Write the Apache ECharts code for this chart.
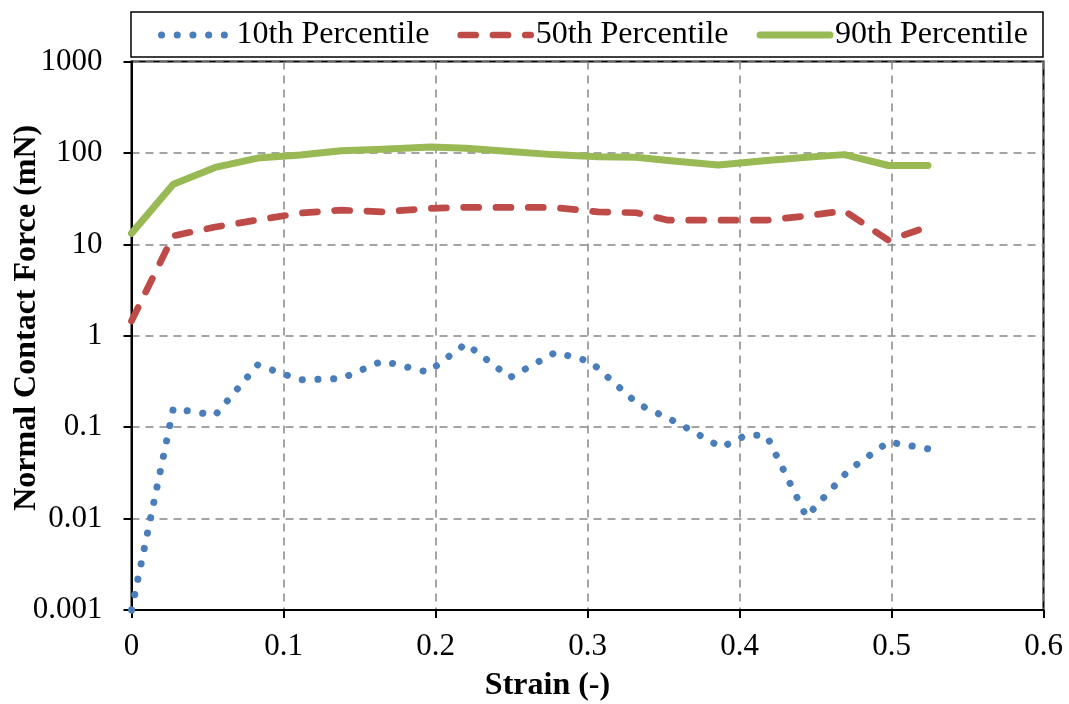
<!DOCTYPE html>
<html>
<head>
<meta charset="utf-8">
<script src="https://cdn.jsdelivr.net/npm/echarts@6/dist/echarts.min.js"></script>
<style>
html,body{margin:0;padding:0;background:#fff;}
#chart{width:1069px;height:704px;}
</style>
</head>
<body>
<div id="chart"></div>
<script>
// ---- data ----
var seriesNames = ['10th Percentile', '50th Percentile', '90th Percentile'];
var strain10 = [0, 0.0275, 0.055, 0.083, 0.111, 0.138, 0.165, 0.195, 0.22, 0.249, 0.279, 0.302, 0.333, 0.36, 0.388, 0.405, 0.418, 0.444, 0.472, 0.498, 0.524];
var force10  = [0.001, 0.16, 0.135, 0.48, 0.33, 0.34, 0.53, 0.40, 0.82, 0.35, 0.66, 0.52, 0.18, 0.11, 0.06, 0.083, 0.08, 0.0105, 0.034, 0.069, 0.058];
var strain = [0, 0.0275, 0.055, 0.083, 0.111, 0.138, 0.165, 0.197, 0.22, 0.249, 0.277, 0.307, 0.332, 0.353, 0.386, 0.418, 0.444, 0.469, 0.498, 0.524];
var force50 = [1.45, 12.4, 15.5, 18.5, 22.0, 23.7, 22.7, 24.8, 25.4, 25.4, 25.4, 22.7, 22.2, 18.4, 18.4, 18.4, 20.5, 23.3, 11.1, 15.6];
var force90 = [13.2, 45.6, 69.5, 88, 95, 106, 110, 116, 113, 104, 96, 91, 90, 83, 74, 83, 90, 96, 73, 73];
var xTicks = ['0', '0.1', '0.2', '0.3', '0.4', '0.5', '0.6'];
var yTicks = ['0.001', '0.01', '0.1', '1', '10', '100', '1000'];

function pairs(xs, ys) { return xs.map(function (x, i) { return [x, ys[i]]; }); }

var FONT = 'Liberation Serif, Times New Roman, serif';
var chart = echarts.init(document.getElementById('chart'), null, {renderer: 'canvas'});
var option = {
  backgroundColor: '#fff',
  animation: false,
  grid: {left: 131.5, right: 25.5, top: 61.6, bottom: 94, show: true, borderColor: '#000', borderWidth: 2,
         backgroundColor: 'transparent', containLabel: false, outerBoundsMode: 'none'},
  graphic: [{
    type: 'rect', shape: {x: 131, y: 12, width: 912, height: 45},
    style: {fill: 'none', stroke: '#000', lineWidth: 1.5}, z: 0
  }],
  legend: {
    data: seriesNames,
    left: 158, top: 19, padding: 0,
    icon: 'inherit',
    itemWidth: 70, itemHeight: 14, itemGap: 28,
    textStyle: {fontFamily: FONT, fontSize: 32, color: '#000'},
    lineStyle: {width: 'inherit'},
    itemStyle: {opacity: 0},
    selectedMode: false
  },
  xAxis: {
    type: 'value', min: 0, max: 0.6, interval: 0.1,
    name: 'Strain (-)', nameLocation: 'middle', nameGap: 60, nameMoveOverlap: false,
    nameTextStyle: {fontFamily: FONT, fontSize: 32, fontWeight: 'bold', color: '#000', padding: [0, 80, 0, 0]},
    axisLine: {show: true, lineStyle: {color: '#000', width: 2}},
    axisTick: {show: true, inside: false, length: 8, lineStyle: {color: '#000', width: 2}},
    axisLabel: {fontFamily: FONT, fontSize: 31, color: '#000', margin: 21,
      formatter: function (v) { return xTicks[Math.round(v * 10)]; }},
    splitLine: {show: true, lineStyle: {color: '#878787', width: 1.5, type: [8, 6]}}
  },
  yAxis: {
    type: 'log', logBase: 10, min: 0.001, max: 1000, interval: 1,
    name: 'Normal Contact Force (mN)', nameLocation: 'middle', nameGap: 89, nameMoveOverlap: false,
    nameTextStyle: {fontFamily: FONT, fontSize: 32, fontWeight: 'bold', color: '#000', padding: [0, 0, 0, 36]},
    axisLine: {show: true, lineStyle: {color: '#000', width: 2}},
    axisTick: {show: true, inside: false, length: 8, lineStyle: {color: '#000', width: 2}},
    axisLabel: {fontFamily: FONT, fontSize: 31, color: '#000', margin: 29,
      formatter: function (v) { return yTicks[Math.round(Math.log10(v)) + 3]; }},
    splitLine: {show: true, lineStyle: {color: '#878787', width: 1.5, type: [8, 6]}}
  },
  series: [
    {
      name: seriesNames[0], type: 'line', data: pairs(strain10, force10),
      symbol: 'none', clip: false, z: 3,
      lineStyle: {color: '#4A7EBB', width: 7, type: [0.1, 15.6], cap: 'round', join: 'round'},
      itemStyle: {color: '#4A7EBB'}
    },
    {
      name: seriesNames[1], type: 'line', data: pairs(strain, force50),
      symbol: 'none', clip: false, z: 3,
      lineStyle: {color: '#BE4B48', width: 6.7, type: [15, 17.3], cap: 'round', join: 'round'},
      itemStyle: {color: '#BE4B48'}
    },
    {
      name: seriesNames[2], type: 'line', data: pairs(strain, force90),
      symbol: 'none', clip: false, z: 3,
      lineStyle: {color: '#98B954', width: 7, type: 'solid', cap: 'round', join: 'round'},
      itemStyle: {color: '#98B954'}
    }
  ]
};
chart.setOption(option);
</script>
</body>
</html>
